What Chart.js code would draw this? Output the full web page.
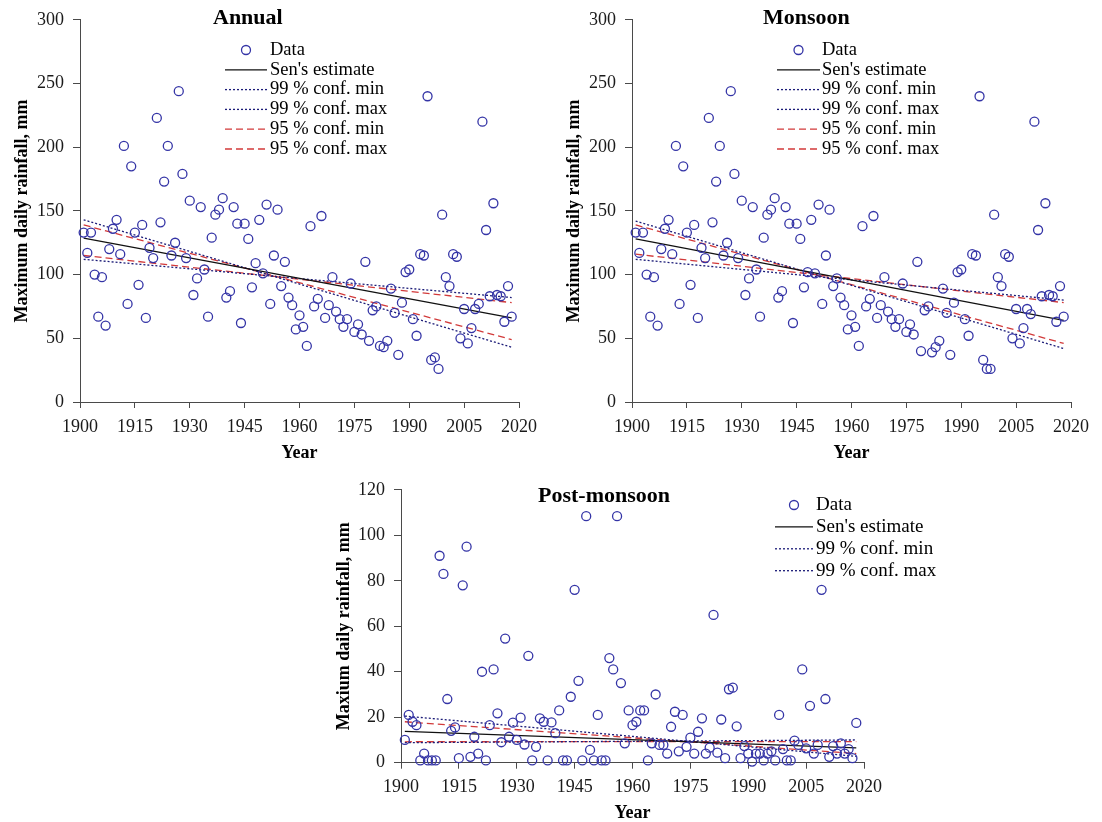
<!DOCTYPE html>
<html lang="en">
<head>
  <meta charset="UTF-8" />
  <title>Maximum daily rainfall trends</title>
  <script src="https://cdn.jsdelivr.net/npm/chart.js"></script>
  <style>
    body { margin: 0; background: #fff; width: 1102px; height: 822px; overflow: hidden; position: relative; }
    canvas { position: absolute; }
  </style>
</head>
<body>
  <canvas id="annualChart" width="545" height="470" style="left:0;top:0"></canvas>
  <canvas id="monsoonChart" width="545" height="470" style="left:552px;top:0"></canvas>
  <canvas id="postChart" width="660" height="360" style="left:320px;top:470px"></canvas>

  <script>
    const firstYear = 1901;
    const lastYear = 2018;
    const years = Array.from({ length: lastYear - firstYear + 1 }, (_, i) => firstYear + i);
    const xTicks = [1900, 2020, 15];   // min, max, step

    // yearly maximum one-day rainfall (mm), 1901-2018
    const annualMax = [
      133, 117, 133, 100, 67, 98, 60, 120, 136, 143,
      116, 201, 77, 185, 133, 92, 139, 66, 121, 113,
      223, 141, 173, 201, 115, 125, 244, 179, 113, 158,
      84, 97, 153, 104, 67, 129, 147, 151, 160, 82,
      87, 153, 140, 62, 140, 128, 90, 109, 143, 101,
      155, 77, 115, 151, 91, 110, 82, 76, 57, 68,
      59, 44, 138, 75, 81, 146, 66, 76, 98, 71,
      65, 59, 65, 93, 55, 61, 53, 110, 48, 72,
      75, 44, 43, 48, 89, 70, 37, 78, 102, 104,
      65, 52, 116, 115, 240, 33, 35, 26, 147, 98,
      91, 116, 114, 50, 73, 46, 58, 73, 77, 220,
      135, 83, 156, 84, 83, 63, 91, 67
    ];
    const monsoonMax = [
      133, 117, 133, 100, 67, 98, 60, 120, 136, 143,
      116, 201, 77, 185, 133, 92, 139, 66, 121, 113,
      223, 141, 173, 201, 115, 125, 244, 179, 113, 158,
      84, 97, 153, 104, 67, 129, 147, 151, 160, 82,
      87, 153, 140, 62, 140, 128, 90, 102, 143, 101,
      155, 77, 115, 151, 91, 97, 82, 76, 57, 68,
      59, 44, 138, 75, 81, 146, 66, 76, 98, 71,
      65, 59, 65, 93, 55, 61, 53, 110, 40, 72,
      75, 39, 43, 48, 89, 70, 37, 78, 102, 104,
      65, 52, 116, 115, 240, 33, 26, 26, 147, 98,
      91, 116, 114, 50, 73, 46, 58, 73, 69, 220,
      135, 83, 156, 84, 83, 63, 91, 67
    ];
    const postMonsoonMax = [
      10, 21, 18, 16.5, 1, 4, 1, 1, 1, 91,
      83, 28, 14, 15.5, 2, 78, 95, 2.6, 11.4, 4,
      40, 1, 16.5, 41, 21.7, 9, 54.6, 11.4, 17.6, 10,
      19.8, 8, 47, 1, 7, 19.5, 18, 1, 17.7, 13,
      23, 1, 1, 29, 76, 36, 1, 108.4, 5.6, 1,
      21, 1, 1, 46, 41, 108.4, 35, 8.5, 23, 16.5,
      18, 23, 23, 1, 8.5, 30, 7.8, 7.8, 4, 15.8,
      22.4, 5, 21, 7, 11, 4, 13.6, 19.5, 4, 6.6,
      65, 4.4, 19, 2, 32.3, 33, 16, 2, 7.3, 4,
      0.5, 4, 4, 1, 4, 5, 1, 21, 6, 1,
      1, 9.7, 7.8, 41, 6.3, 25, 4, 7.8, 76, 28,
      2.6, 7.3, 4, 8.5, 4, 6, 2, 17.5
    ];

    // Sen's slope line and confidence bounds, value at first and last year
    const trendLabels = ["Sen's estimate", '99 % conf. min', '99 % conf. max', '95 % conf. min', '95 % conf. max'];
    const annualTrendStart = [128.6, 143, 112, 139, 115];
    const annualTrendEnd = [66, 43, 82, 49, 78];
    const monsoonTrendStart = [128, 142, 112, 139, 116];
    const monsoonTrendEnd = [64, 42, 80, 46, 78];
    const postTrendStart = [13.8, 20.5, 8.8, 18, 9.2];
    const postTrendEnd = [6.5, 2.8, 10, 4, 9.3];

    const trendColors = ['#111111', '#1c1c78', '#1c1c78', '#d23a3a', '#d23a3a'];
    const trendDash = [[], [2, 2], [2, 2], [7, 4], [7, 4]];

    const serif = "'Liberation Serif', 'Times New Roman', serif";

    // titles and in-plot legend drawn straight on the canvas
    const panelDecor = {
      id: 'panelDecor',
      afterDraw(chart, args, o) {
        const ctx = chart.ctx;
        ctx.save();
        ctx.fillStyle = '#000';
        ctx.textAlign = 'left';
        ctx.textBaseline = 'middle';
        ctx.font = `bold ${o.titleSize}px ${serif}`;
        ctx.fillText(o.title, o.titleX, o.titleY);

        ctx.font = `${o.legendSize}px ${serif}`;
        o.items.forEach((idx, row) => {
          const ds = chart.data.datasets[idx];
          const y = o.legendY + row * o.rowGap;
          const x0 = o.legendX, x1 = o.legendX + o.sampleLen;
          ctx.beginPath();
          if (ds.showLine === false) {
            ctx.setLineDash([]);
            ctx.arc((x0 + x1) / 2, y, ds.pointRadius, 0, Math.PI * 2);
            ctx.strokeStyle = ds.pointBorderColor;
            ctx.lineWidth = ds.pointBorderWidth;
          } else {
            ctx.setLineDash(ds.borderDash);
            ctx.moveTo(x0, y);
            ctx.lineTo(x1, y);
            ctx.strokeStyle = ds.borderColor;
            ctx.lineWidth = ds.borderWidth;
          }
          ctx.stroke();
          ctx.setLineDash([]);
          ctx.fillText(ds.label, x1 + o.textGap, y);
        });
        ctx.restore();
      }
    };

    function makePanel(id, values, trendStart, trendEnd, yMax, yStep, yTitle, p) {
      const datasets = [{
        label: 'Data',
        data: years.map((yr, i) => ({ x: yr, y: values[i] })),
        showLine: false,
        pointRadius: 4.5,
        pointBorderWidth: 1.3,
        pointBorderColor: '#3434a6',
        pointBackgroundColor: 'rgba(0,0,0,0)',
        clip: false
      }];
      trendLabels.forEach((label, k) => {
        datasets.push({
          label: label,
          data: [{ x: firstYear, y: trendStart[k] }, { x: lastYear, y: trendEnd[k] }],
          showLine: true,
          pointRadius: 0,
          borderColor: trendColors[k],
          borderDash: trendDash[k],
          borderWidth: 1.3,
          fill: false
        });
      });

      const tickFont = { family: serif, size: 18 };
      const titleFont = { family: serif, size: 18, weight: 'bold' };

      return new Chart(document.getElementById(id), {
        type: 'scatter',
        data: { datasets },
        plugins: [panelDecor],
        options: {
          responsive: false,
          animation: false,
          layout: { padding: { top: p.top, right: p.right, left: 0, bottom: 0 } },
          plugins: {
            legend: { display: false },
            tooltip: { enabled: false },
            panelDecor: p.decor
          },
          scales: {
            x: {
              type: 'linear',
              min: xTicks[0],
              max: xTicks[1],
              afterFit: s => { s.height = p.xHeight; },
              ticks: {
                stepSize: xTicks[2], autoSkip: false, maxRotation: 0, padding: 8,
                color: '#1a1a1a', font: tickFont, callback: v => String(v)
              },
              grid: { drawOnChartArea: false, tickLength: 6, color: '#4a4a4a' },
              border: { color: '#4a4a4a' },
              title: { display: true, text: 'Year', color: '#000', font: titleFont, padding: { top: 0, bottom: 6 } }
            },
            y: {
              min: 0,
              max: yMax,
              afterFit: s => { s.width = p.yWidth; },
              ticks: { stepSize: yStep, padding: 9, color: '#1a1a1a', font: tickFont },
              grid: { drawOnChartArea: false, tickLength: 7, color: '#4a4a4a' },
              border: { color: '#4a4a4a' },
              title: { display: true, text: yTitle, color: '#000', font: titleFont, padding: { top: p.yTitlePad, bottom: 0 } }
            }
          }
        }
      });
    }

    makePanel('annualChart', annualMax, annualTrendStart, annualTrendEnd, 300, 50,
      'Maximum daily rainfall, mm', {
        top: 14.5, right: 22, xHeight: 68, yWidth: 80, yTitlePad: 12,
        decor: {
          title: 'Annual', titleSize: 22, titleX: 213, titleY: 18.5,
          items: [0, 1, 2, 3, 4, 5], legendX: 225, legendY: 50, rowGap: 19.8,
          sampleLen: 42, textGap: 3, legendSize: 18.5
        }
      });

    makePanel('monsoonChart', monsoonMax, monsoonTrendStart, monsoonTrendEnd, 300, 50,
      'Maximum daily rainfall, mm', {
        top: 14.5, right: 23, xHeight: 68, yWidth: 80, yTitlePad: 12,
        decor: {
          title: 'Monsoon', titleSize: 22, titleX: 211, titleY: 18.5,
          items: [0, 1, 2, 3, 4, 5], legendX: 225, legendY: 50, rowGap: 19.8,
          sampleLen: 43, textGap: 2, legendSize: 18.5
        }
      });

    // post-monsoon canvas is wider than its plot so the legend text fits to the right
    makePanel('postChart', postMonsoonMax, postTrendStart, postTrendEnd, 120, 20,
      'Maxium daily rainfall, mm', {
        top: 19.3, right: 116, xHeight: 67.3, yWidth: 81, yTitlePad: 14,
        decor: {
          title: 'Post-monsoon', titleSize: 22, titleX: 218, titleY: 26.7,
          items: [0, 1, 2, 3], legendX: 455, legendY: 35, rowGap: 21.9,
          sampleLen: 38, textGap: 3, legendSize: 19
        }
      });
  </script>
</body>
</html>
